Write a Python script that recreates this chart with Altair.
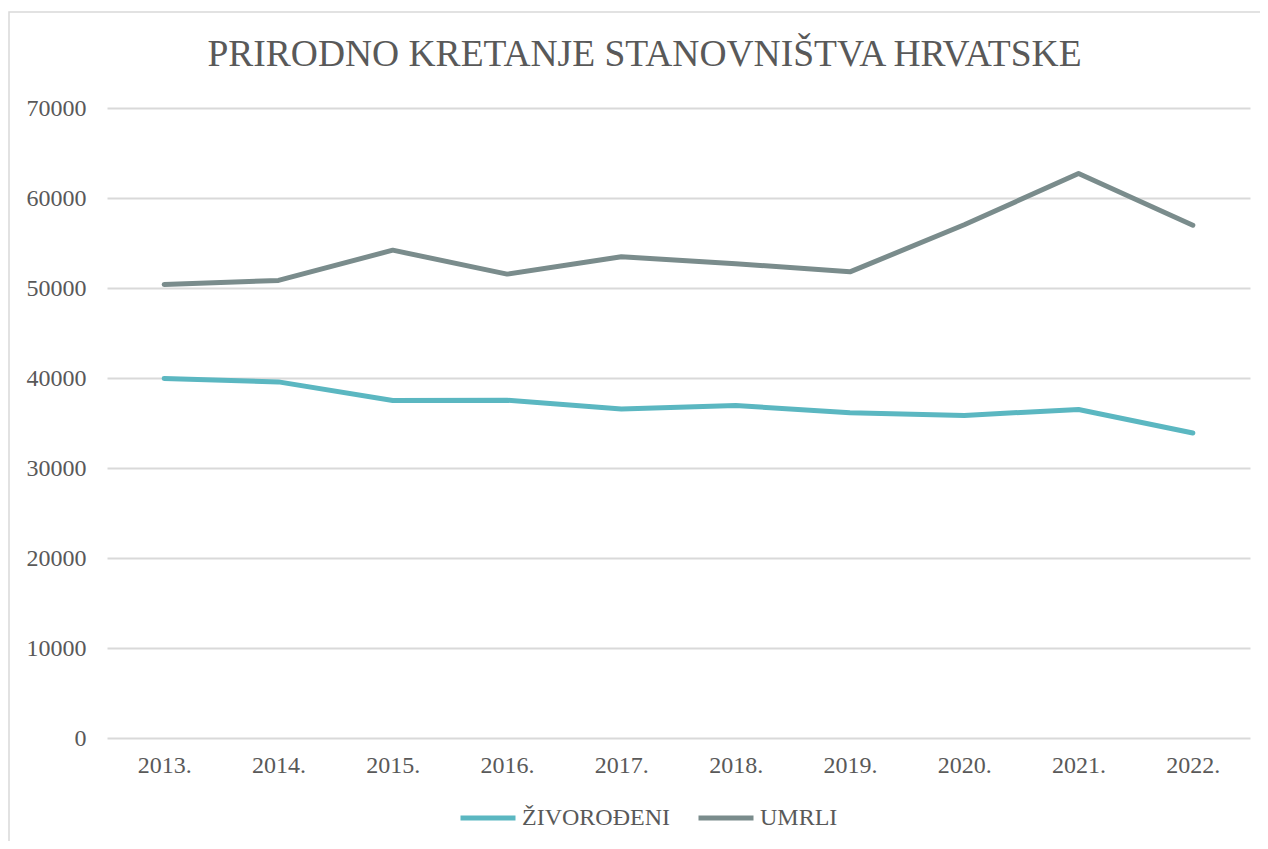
import altair as alt
import pandas as pd

years = ["2013.", "2014.", "2015.", "2016.", "2017.", "2018.", "2019.", "2020.", "2021.", "2022."]
zivorodeni = [39939, 39566, 37503, 37537, 36556, 36945, 36135, 35845, 36508, 33883]
umrli = [50386, 50839, 54205, 51542, 53477, 52706, 51794, 57023, 62712, 56979]
series_names = ["ŽIVOROĐENI", "UMRLI"]
series_colors = ["#5BB7C1", "#7A8C8C"]
y_ticks = [0, 10000, 20000, 30000, 40000, 50000, 60000, 70000]

rows = []
for i, yr in enumerate(years):
    rows.append({"Godina": yr, "Serija": series_names[0], "Vrijednost": zivorodeni[i]})
    rows.append({"Godina": yr, "Serija": series_names[1], "Vrijednost": umrli[i]})
df = pd.DataFrame(rows)

FONT = "Liberation Serif, Times New Roman, serif"
TXT = "#595959"
W, H = 1143, 630

border = alt.Chart(pd.DataFrame({"a": [0]})).mark_rect(
    fill=None, stroke="#D9D9D9", strokeWidth=1.5
).encode(
    x=alt.value(-98), x2=alt.value(W + 60),
    y=alt.value(-96), y2=alt.value(H + 150)
)

lines = alt.Chart(df).mark_line(strokeWidth=5, strokeCap="round", strokeJoin="round").encode(
    x=alt.X("Godina:N", sort=years, scale=alt.Scale(type="point", padding=0.5),
            axis=alt.Axis(title=None, labelAngle=0, ticks=False, domain=False, grid=False,
                          labelFont=FONT, labelFontSize=24, labelColor=TXT, labelPadding=15)),
    y=alt.Y("Vrijednost:Q", scale=alt.Scale(domain=[0, 70000], nice=False),
            axis=alt.Axis(title=None, values=y_ticks, format="d", ticks=False, domain=False,
                          grid=True, gridColor="#D9D9D9", gridWidth=2,
                          labelFont=FONT, labelFontSize=24, labelColor=TXT, labelPadding=21)),
    color=alt.Color("Serija:N",
                    scale=alt.Scale(domain=series_names, range=series_colors),
                    sort=series_names,
                    legend=alt.Legend(title=None, orient="none", legendX=351, legendY=680,
                                      direction="horizontal", columns=2, columnPadding=18,
                                      symbolType="stroke", symbolSize=3025, symbolStrokeWidth=5,
                                      labelFont=FONT, labelFontSize=24, labelColor=TXT,
                                      labelOffset=4, padding=0)),
    order=alt.Order("Godina:N")
)

chart = alt.layer(border, lines).properties(
    width=W, height=H,
    padding={"left": 99, "top": 100, "right": 10, "bottom": 103},
    autosize=alt.AutoSizeParams(type="none"),
    title=alt.TitleParams("PRIRODNO KRETANJE STANOVNIŠTVA HRVATSKE", font=FONT, fontSize=37.5,
                          fontWeight="normal", color=TXT, anchor="middle", frame="group",
                          baseline="alphabetic", dx=-34, dy=92, offset=0),
).configure_view(stroke=None)

chart.save("out.html", embed_options={"renderer": "svg", "actions": False})
